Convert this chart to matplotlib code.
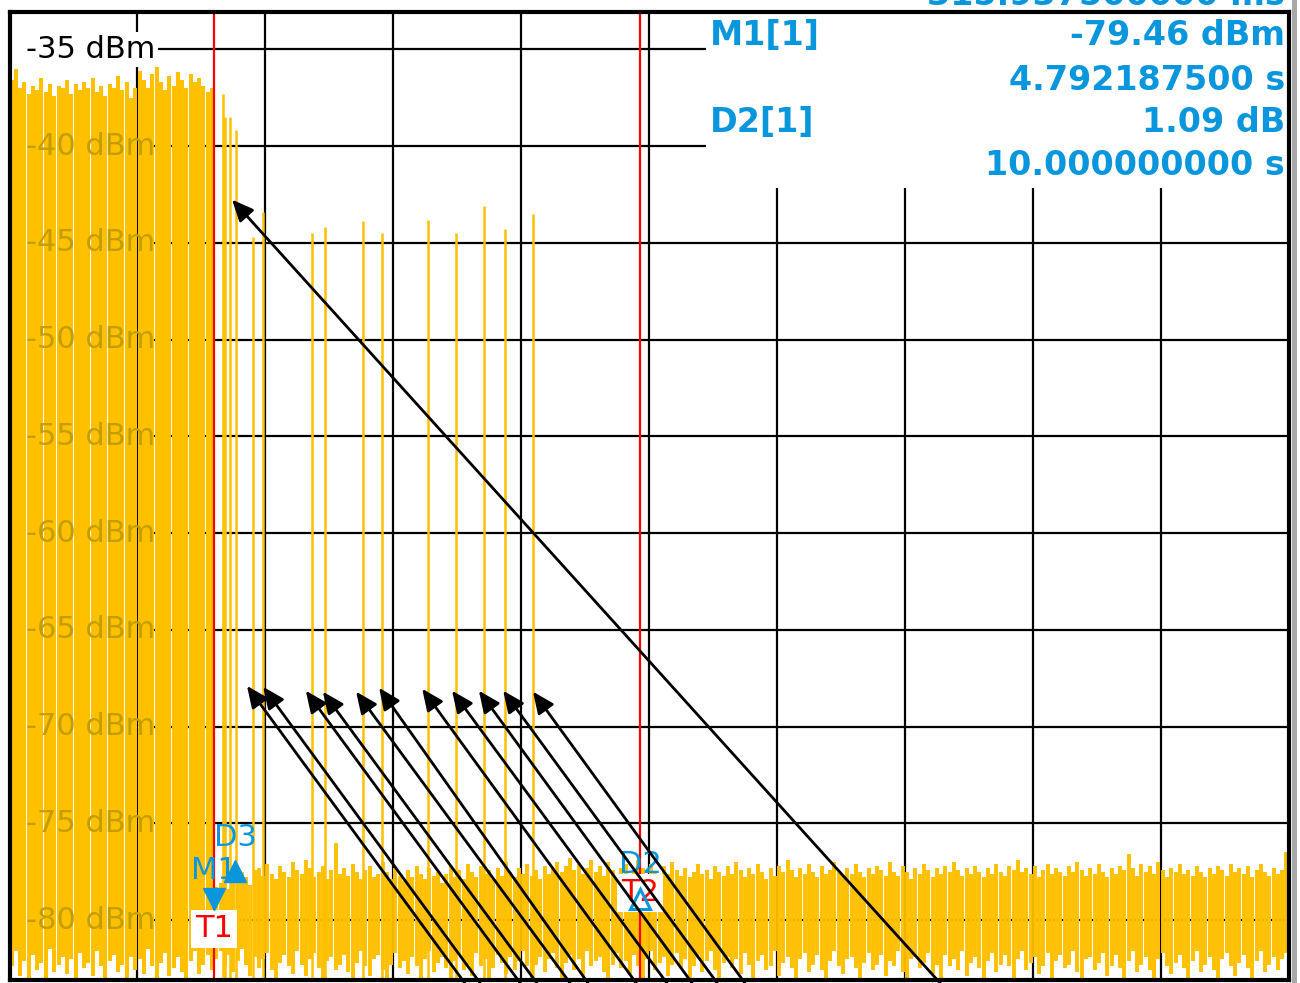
import matplotlib
matplotlib.use('Agg')
import matplotlib.pyplot as plt
import matplotlib.transforms as mtransforms
from matplotlib.patches import Rectangle
import numpy as np

# ---------------------------------------------------------------------------
# Data (zero span, 0..30 s, -83.1..-33.1 dBm)
# ---------------------------------------------------------------------------
SWEEP_S = 30.0
Y_BOTTOM, Y_TOP = -83.1, -33.1
grid_t = [3, 6, 9, 12, 15, 18, 21, 24, 27]
levels = [-35, -40, -45, -50, -55, -60, -65, -70, -75, -80]

# strong signal before T1 (column max / min, 0.1 s per column)
block_top = [-36.6, -36.0, -37.0, -36.7, -37.3, -36.9, -37.1, -36.5, -37.2, -36.8,
             -37.4, -36.9, -37.0, -36.6, -37.3, -36.8, -37.1, -36.7, -37.0, -36.5,
             -37.2, -36.9, -37.4, -36.8, -37.0, -36.4, -37.1, -36.7, -37.5, -37.0,
             -36.1, -36.6, -37.0, -36.3, -35.9, -36.7, -37.1, -36.4, -36.9, -36.2,
             -36.6, -37.0, -36.3, -36.7, -36.5, -36.9, -37.2, -37.0]
block_bot = [-82.4, -81.6, -82.9, -82.1, -83.1, -81.8, -82.6, -82.2, -83.0, -81.5,
             -82.7, -82.3, -81.9, -82.8, -82.0, -83.1, -81.7, -82.5, -82.2, -82.9,
             -81.6, -82.4, -83.0, -82.1, -81.8, -82.7, -82.3, -83.1, -81.9, -82.6,
             -82.0, -82.8, -81.5, -82.4, -83.0, -82.2, -81.7, -82.9, -82.5, -81.9,
             -82.7, -83.1, -82.1, -81.6, -82.8, -82.3, -81.8, -82.6]

# noise floor after T1
noise_top = [-78.3, -78.1, -77.9, -78.4, -77.6, -78.0, -77.5, -77.8, -78.2, -77.4,
             -77.3, -77.7, -77.1, -77.6, -77.9, -77.2, -77.5, -77.8, -77.0, -77.4,
             -77.6, -76.9, -77.3, -77.8, -77.5, -77.2, -77.9, -77.4, -76.0, -77.6,
             -77.3, -77.7, -77.1, -77.5, -77.9, -77.4, -77.2, -77.8, -77.6, -77.0,
             -77.5, -77.9, -77.3, -77.7, -78.0, -77.4, -77.8, -77.2, -77.6, -77.9,
             -77.3, -77.7, -77.5, -78.1, -77.6, -77.2, -77.8, -77.4, -77.9, -77.1,
             -77.5, -77.8, -77.2, -77.6, -77.4, -77.9, -77.3, -77.7, -77.0, -77.5,
             -77.8, -77.3, -77.6, -77.1, -77.7, -77.4, -77.9, -77.2, -77.6, -77.3,
             -77.0, -77.5, -77.2, -76.8, -77.4, -77.1, -77.6, -77.3, -76.9, -77.5,
             -77.2, -77.7, -77.0, -77.4, -77.8, -77.3, -77.1, -77.6, -77.4, -76.9,
             -77.3, -77.6, -77.1, -77.5, -77.8, -77.2, -77.6, -77.0, -77.4, -77.7,
             -77.3, -77.8, -77.5, -77.1, -77.6, -77.4, -77.9, -77.2, -77.5, -77.7,
             -77.2, -77.6, -77.0, -77.4, -77.8, -77.3, -77.6, -77.1, -77.5, -77.9,
             -77.3, -77.7, -77.2, -77.5, -76.9, -77.4, -77.8, -77.3, -77.6, -77.1,
             -77.5, -77.8, -77.2, -77.6, -77.4, -77.0, -77.5, -77.7, -77.3, -77.6,
             -77.1, -77.5, -77.8, -77.3, -77.6, -77.2, -77.4, -77.7, -77.0, -77.5,
             -77.7, -77.2, -77.5, -77.9, -77.3, -77.6, -77.1, -77.4, -77.8, -77.3,
             -77.6, -77.2, -77.5, -77.0, -77.4, -77.7, -77.3, -77.6, -77.2, -77.5,
             -77.8, -77.3, -77.6, -77.1, -77.5, -77.7, -77.2, -77.4, -76.9, -77.5,
             -77.3, -77.6, -77.2, -77.8, -77.4, -77.1, -77.6, -77.3, -77.5, -77.7,
             -77.2, -77.5, -77.0, -77.4, -77.7, -77.3, -77.6, -77.1, -77.5, -77.8,
             -77.3, -77.6, -77.2, -77.4, -76.6, -77.3, -77.7, -77.1, -77.5, -77.2,
             -77.6, -77.0, -77.4, -77.8, -77.3, -77.5, -77.1, -77.6, -77.4, -77.7,
             -77.2, -77.5, -77.8, -77.3, -77.6, -77.2, -77.4, -77.7, -77.1, -77.5,
             -77.3, -77.6, -77.2, -77.8, -77.4, -77.1, -77.5, -77.7, -77.3, -77.6,
             -77.4, -76.5]
noise_bot = [-82.0, -81.6, -82.4, -81.8, -82.7, -82.1, -81.5, -82.3, -82.9, -81.9,
             -82.5, -82.0, -81.7, -82.6, -83.1, -82.2, -81.8, -82.4, -82.8, -81.6,
             -82.3, -82.9, -82.0, -81.7, -82.5, -83.0, -82.1, -81.9, -82.6, -82.3,
             -81.8, -82.7, -83.1, -82.2, -81.6, -82.4, -82.9, -82.0, -81.8, -82.6,
             -83.0, -82.3, -81.7, -82.5, -82.1, -82.8, -81.9, -82.4, -83.1, -82.0,
             -81.6, -82.7, -82.2, -81.9, -82.5, -83.0, -82.1, -81.8, -82.6, -82.3,
             -82.9, -81.7, -82.4, -82.0, -83.1, -82.5, -81.8, -82.2, -82.8, -81.9,
             -82.6, -82.1, -81.6, -82.4, -83.0, -82.3, -81.9, -82.7, -82.0, -81.7,
             -82.5, -83.1, -82.2, -81.8, -82.6, -82.0, -82.9, -81.6, -82.4, -82.1,
             -81.9, -82.7, -83.0, -82.3, -81.7, -82.5, -82.1, -82.8, -81.8, -82.4,
             -83.1, -82.0, -81.6, -82.6, -82.2, -81.9, -82.9, -82.3, -81.7, -82.5,
             -82.0, -83.0, -82.4, -81.8, -82.7, -82.1, -81.6, -82.6, -83.1, -82.2,
             -81.9, -82.5, -82.0, -82.8, -81.7, -82.3, -83.0, -82.1, -81.8, -82.6,
             -82.4, -81.6, -82.9, -82.2, -81.9, -82.5, -83.1, -82.0, -81.7, -82.7,
             -82.3, -81.8, -82.6, -83.0, -82.1, -81.6, -82.4, -82.8, -82.0, -81.9,
             -82.5, -83.1, -82.2, -81.7, -82.6, -82.3, -81.8, -82.9, -82.1, -82.4,
             -81.6, -82.7, -83.0, -82.0, -81.9, -82.5, -82.2, -81.7, -82.8, -82.3,
             -83.1, -81.8, -82.4, -82.0, -82.6, -81.6, -82.9, -82.2, -81.9, -82.5,
             -83.0, -82.1, -81.7, -82.7, -82.3, -81.8, -82.4, -83.1, -82.0, -81.6,
             -82.6, -82.2, -81.9, -82.8, -82.4, -81.7, -83.0, -82.1, -81.8, -82.5,
             -82.3, -81.6, -82.7, -83.1, -82.0, -81.9, -82.6, -82.2, -81.7, -82.9,
             -82.4, -81.8, -82.5, -83.0, -82.1, -81.6, -82.7, -82.3, -81.9, -82.6,
             -83.1, -82.0, -81.7, -82.4, -82.8, -82.2, -81.8, -82.5, -83.0, -82.1,
             -81.6, -82.7, -82.3, -81.9, -82.6, -83.1, -82.0, -81.7, -82.4, -82.9,
             -82.2, -81.8, -82.5, -83.0, -82.1, -81.6, -82.7, -82.3, -81.9, -82.6,
             -82.0, -81.7]

# isolated bursts after T1
spike_t = [5.00, 5.06, 5.17, 5.31, 5.71, 5.95, 7.10, 7.40, 8.29, 8.74,
           9.82, 10.47, 11.13, 11.62, 12.28]
spike_top = [-37.3, -38.5, -38.5, -39.15, -44.7, -43.4, -44.5, -44.2, -43.9, -44.5,
             -43.8, -44.5, -43.1, -44.3, -43.5]

# annotation arrows (head -> tail at the bottom edge)
arrow_head_t = [5.57, 5.95, 6.95, 7.35, 8.13, 8.67, 9.68, 10.38, 11.01, 11.58, 12.28, 5.22]
arrow_head_lvl = [-67.9, -67.95, -68.15, -68.2, -68.2, -68.0, -68.05, -68.15, -68.15,
                  -68.15, -68.2, -42.77]
arrow_tail_t = [10.68, 11.04, 11.98, 12.37, 13.15, 13.57, 14.70, 15.42, 16.01, 16.60,
                17.25, 21.83]
ARROW_TAIL_LVL = -83.26

# markers
m1_t, m1_lvl = 4.792, -79.46
d2_t, d2_lvl = 14.792, -78.37
d3_t, d3_lvl = 5.29, -76.9
info_rows = [('M1[1]', '-79.46 dBm'), ('', '4.792187500 s'),
             ('D2[1]', '1.09 dB'), ('', '10.000000000 s')]

YELLOW = '#FFC000'
BLUE = '#0A96DC'
RED = '#FF0000'
W, H = 1300, 983

fig = plt.figure(figsize=(W / 100, H / 100), dpi=100)
ax = fig.add_axes([9.5 / W, 3 / H, 1279 / W, 967.5 / H])
ax.set_xlim(0, SWEEP_S)
ax.set_ylim(Y_BOTTOM, Y_TOP)
ax.set_xticks([])
ax.set_yticks([])
for sp in ax.spines.values():
    sp.set_linewidth(3)
    sp.set_color('black')
    sp.set_zorder(10)

# grid
label_edge = 0.1138
for t in grid_t:
    ax.axvline(t, color='black', lw=1.6, zorder=1)
for lvl in levels:
    ax.axhline(lvl, xmin=label_edge, color='black', lw=1.6, zorder=1)

# marker info box hides the grid in the top right corner
ax.add_patch(Rectangle((0.5446, 0.8185), 0.46, 0.19, transform=ax.transAxes,
                       facecolor='white', edgecolor='none', zorder=1.5))

# trace
block_t = np.linspace(0.05, 4.75, len(block_top))
noise_t = np.linspace(4.85, 29.95, len(noise_top))
ax.vlines(block_t, block_bot, block_top, colors=YELLOW, lw=2.9, zorder=2)
ax.vlines(noise_t, noise_bot, noise_top, colors=YELLOW, lw=2.8, zorder=2)
ax.vlines(spike_t, Y_BOTTOM, spike_top, colors=YELLOW, lw=1.8, zorder=2)

# level labels
lab_tr = mtransforms.blended_transform_factory(ax.transAxes, ax.transData)
ax.text(label_edge, levels[0], f'{levels[0]} dBm', transform=lab_tr, ha='right',
        va='center', fontsize=22, color='black', zorder=4,
        bbox=dict(facecolor='white', edgecolor='none', pad=2))
for lvl in levels[1:]:
    ax.text(label_edge, lvl, f'{lvl} dBm', transform=lab_tr, ha='right',
            va='center', fontsize=22, color='#C49E00', zorder=4)

# time lines
ax.axvline(m1_t, color=RED, lw=1.6, zorder=3)
ax.axvline(d2_t, color=RED, lw=1.6, zorder=3)
ax.text(m1_t, -80.46, 'T1', color=RED, fontsize=22, ha='center', va='center',
        zorder=5, bbox=dict(facecolor='white', edgecolor='none', pad=3))
ax.text(d2_t, -78.6, 'T2', color=RED, fontsize=22, ha='center', va='center',
        zorder=5, bbox=dict(facecolor='white', edgecolor='none', pad=3))

def shifted(dy):
    return mtransforms.offset_copy(ax.transData, fig=fig, x=0, y=dy, units='points')

ax.text(m1_t, m1_lvl, 'M1', transform=shifted(28), color=BLUE, fontsize=22,
        ha='center', va='center', zorder=6)
ax.text(d3_t, d3_lvl, 'D3', transform=shifted(16), color=BLUE, fontsize=22,
        ha='center', va='center', zorder=6)
ax.text(d2_t, d2_lvl, 'D2', transform=shifted(17), color=BLUE, fontsize=22,
        ha='center', va='center', zorder=6)
ax.plot([m1_t], [m1_lvl], marker='v', ms=16, color=BLUE, transform=shifted(7.9),
        zorder=7, clip_on=False)
ax.plot([d3_t], [d3_lvl], marker='^', ms=16, color=BLUE, transform=shifted(-7.9),
        zorder=7, clip_on=False)
ax.plot([d2_t], [d2_lvl], marker='^', ms=15, mfc='none', mec=BLUE, mew=2.2,
        transform=shifted(-7.9), zorder=7, clip_on=False)

# arrows
for ht, hl, tt in zip(arrow_head_t, arrow_head_lvl, arrow_tail_t):
    ax.annotate('', xy=(ht, hl), xytext=(tt, ARROW_TAIL_LVL),
                arrowprops=dict(arrowstyle='-|>,head_length=0.45,head_width=0.2',
                                color='black', lw=2, mutation_scale=29,
                                shrinkA=0, shrinkB=0),
                zorder=8, annotation_clip=False)

# marker readout
row_base = [45, 90, 132, 175]
for (name, val), yb in zip(info_rows, row_base):
    if name:
        fig.text(710 / W, 1 - yb / H, name, ha='left', va='baseline', fontsize=24,
                 fontweight='bold', color=BLUE, zorder=9)
    fig.text(1285 / W, 1 - yb / H, val, ha='right', va='baseline', fontsize=24,
             fontweight='bold', color=BLUE, zorder=9)
fig.text(1285 / W, 1 - 5 / H, '315.937500000 ms', ha='right', va='baseline',
         fontsize=24, fontweight='bold', color=BLUE)

fig.patches.append(Rectangle((1292 / W, 0), 5 / W, 1, transform=fig.transFigure,
                             facecolor='#A8A8A8', edgecolor='none'))

fig.savefig('out.png', dpi=100)
